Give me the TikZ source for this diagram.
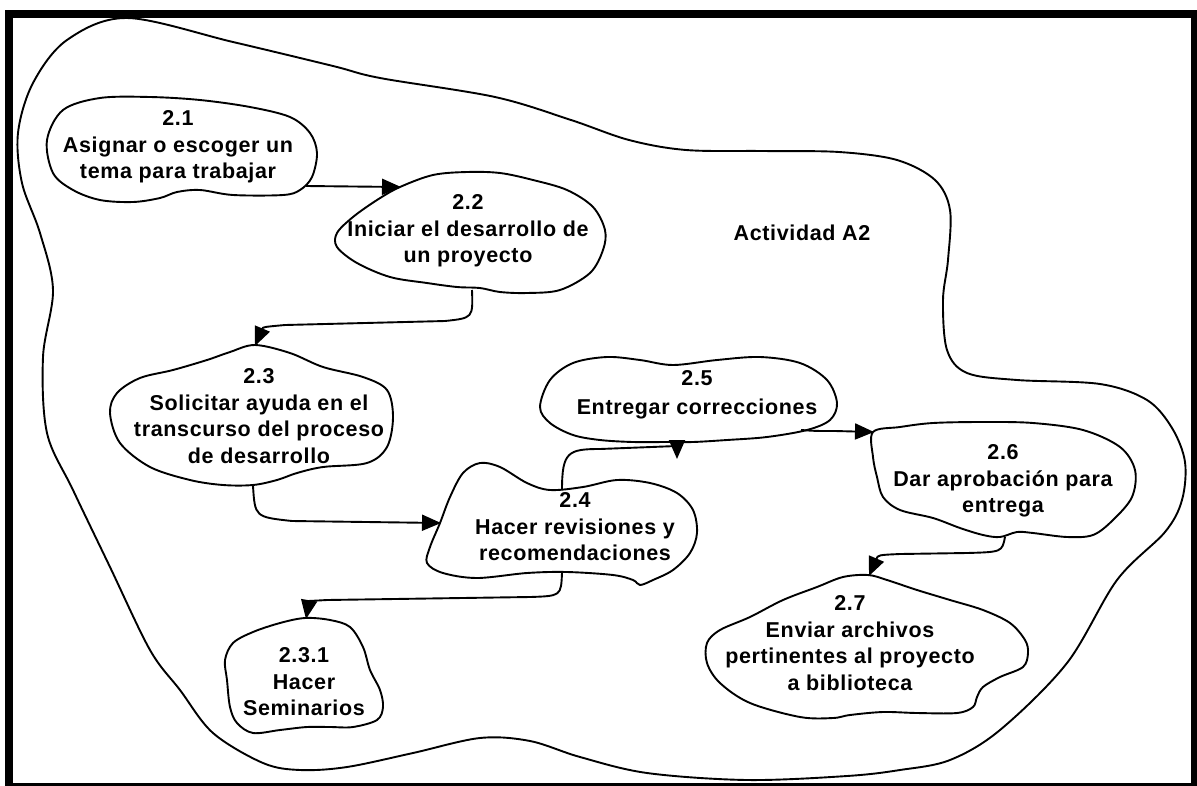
\documentclass[tikz,border=0pt]{standalone}
\usepackage{fontspec}
\setmainfont{Liberation Sans}[LetterSpace=3]
\usetikzlibrary{arrows.meta}

\begin{document}
\begin{tikzpicture}[x=1pt,y=-1pt,
  blob/.style={draw=black,line width=1.9pt,line join=round},
  lbl/.style={align=center,font=\fontsize{21.5}{26.5}\selectfont\bfseries,inner sep=0pt},
  flow/.style={draw=black,line width=1.9pt,-{Triangle[length=19pt,width=16pt]}},
  frame/.style={draw=black,line width=8pt}]

\useasboundingbox (0,0) rectangle (1197,785);
\fill[white] (0,0) rectangle (1197,785);

% outer frame
\draw[frame] (9,13.5) rectangle (1194.5,787);

% boundary of activity A2
\draw[blob] plot[smooth cycle,tension=0.55] coordinates {
  (127,18) (233,42) (333,66) (380,78) (495,97) (571,120) (629,140) (686,150)
  (763,151) (839,152) (897,160) (935,180) (950,210) (948,260) (943,300)
  (947,350) (967,373) (1017,380) (1100,384) (1147,400) (1172,428) (1185,462)
  (1182,500) (1165,532) (1117,580) (1067,663) (1000,730) (950,760) (900,770)
  (847,776) (747,780) (647,773) (580,757) (530,741) (480,738) (413,753)
  (347,767) (300,770) (263,763) (213,733) (180,690) (150,650) (110,567)
  (73,490) (47,433) (43,357) (53,290) (40,233) (22,183) (18,133) (33,83) (67,40)};

% process outlines
\draw[blob] plot[smooth cycle,tension=0.55] coordinates {
  (47,140) (63,110) (100,98) (150,97) (200,100) (250,107) (290,117) (310,133)
  (317,153) (312,177) (300,190) (283,195) (233,195) (200,190) (177,192)
  (160,198) (133,202) (100,200) (73,190) (53,173)};
\draw[blob] plot[smooth cycle,tension=0.55] coordinates {
  (400,187) (433,175) (467,172) (500,173) (533,180) (567,190) (593,207)
  (605,230) (603,250) (590,273) (560,290) (527,293) (500,292) (480,288)
  (457,287) (427,283) (390,277) (357,263) (337,247) (337,233) (353,217) (377,200)};
\draw[blob] plot[smooth cycle,tension=0.55] coordinates {
  (255,345) (290,353) (323,367) (363,377) (387,390) (393,417) (387,447)
  (367,463) (323,467) (297,473) (277,480) (253,485) (223,485) (190,480)
  (150,467) (120,443) (110,413) (117,393) (140,378) (173,370) (207,360) (230,352)};
\draw[blob] plot[smooth cycle,tension=0.55] coordinates {
  (440,523) (450,497) (463,473) (480,463) (500,467) (527,483) (550,490)
  (583,487) (617,480) (650,483) (677,493) (693,510) (697,533) (690,553)
  (673,570) (653,580) (640,585) (633,580) (613,575) (567,572) (527,573)
  (477,578) (443,573) (427,563) (430,547)};
\draw[blob] plot[smooth cycle,tension=0.55] coordinates {
  (540,407) (550,380) (573,363) (607,357) (640,360) (673,365) (717,360)
  (760,357) (800,363) (827,380) (837,403) (830,420) (807,430) (767,437)
  (727,440) (693,442) (667,442) (633,442) (600,440) (573,435) (550,423)};
\draw[blob] plot[smooth cycle,tension=0.55] coordinates {
  (873,432) (900,427) (933,423) (983,422) (1033,423) (1083,430) (1120,447)
  (1135,470) (1132,497) (1113,520) (1093,535) (1067,537) (1033,533)
  (1017,532) (1000,537) (983,535) (960,528) (933,518) (900,510) (883,497)
  (877,477) (873,457)};
\draw[blob] plot[smooth cycle,tension=0.55] coordinates {
  (868,575) (887,580) (917,590) (950,600) (983,610) (1010,623) (1025,640)
  (1028,653) (1023,667) (1000,677) (983,687) (977,697) (973,707) (957,713)
  (917,713) (883,712) (850,715) (833,718) (800,717) (750,703) (720,683)
  (707,663) (707,643) (720,630) (750,617) (783,600) (817,587) (843,577)};
\draw[blob] plot[smooth cycle,tension=0.55] coordinates {
  (305,618) (330,620) (350,627) (363,647) (370,670) (380,690) (383,707)
  (377,720) (353,727) (330,727) (307,727) (280,730) (253,733) (237,723)
  (230,707) (227,680) (225,660) (233,643) (253,632) (280,623)};

% labels
\node[lbl] (p21)  at (178,147) {2.1\\Asignar o escoger un\\tema para trabajar};
\node[lbl] (p22)  at (468,231) {2.2\\Iniciar el desarrollo de\\un proyecto};
\node[lbl] (p23)  at (259,416) {2.3\\Solicitar ayuda en el\\transcurso del proceso\\de desarrollo};
\node[lbl] (p24)  at (575,527) {2.4\\Hacer revisiones y\\recomendaciones};
\node[lbl] (p25)  at (697,395) {2.5\\[2pt]Entregar correcciones};
\node[lbl] (p26)  at (1003,481) {2.6\\Dar aprobación para\\entrega};
\node[lbl] (p27)  at (850,643) {2.7\\Enviar archivos\\pertinentes al proyecto\\a biblioteca};
\node[lbl] (p231) at (304,682) {2.3.1\\Hacer\\Seminarios};
\node[lbl] (act)  at (802,233) {Actividad A2};

% connector end points on the outlines
\coordinate (o21) at (306,186);
\coordinate (i22) at (401,187);
\coordinate (o22) at (472,290);
\coordinate (i23) at (255,346);
\coordinate (o23) at (253,486);
\coordinate (i24) at (441,523);
\coordinate (o24a) at (562,490);
\coordinate (i25) at (677,459);
\coordinate (o25) at (801,430);
\coordinate (i26) at (874,432);
\coordinate (o26) at (1005,537);
\coordinate (i27) at (869,576);
\coordinate (o24b) at (562,573);
\coordinate (i231) at (306,619);

% connectors
\draw[flow] (o21) -- (i22);
\draw[flow] (o22) .. controls (473,318) .. (445,321) -- (285,325)
  .. controls (263,327) .. (i23);
\draw[flow] (o23) .. controls (255,517) .. (292,521) -- (i24);
\draw[flow] (o24a) .. controls (562,452) and (568,449) .. (600,449)
  -- (677,446) -- (i25);
\draw[flow] (o25) .. controls (815,431) .. (835,431) -- (i26);
\draw[flow] (o26) .. controls (1002,552) .. (967,553) -- (900,554)
  .. controls (878,555) .. (i27);
\draw[flow] (o24b) .. controls (561,596) .. (530,597) -- (327,600)
  .. controls (309,601) .. (i231);

\end{tikzpicture}
\end{document}
